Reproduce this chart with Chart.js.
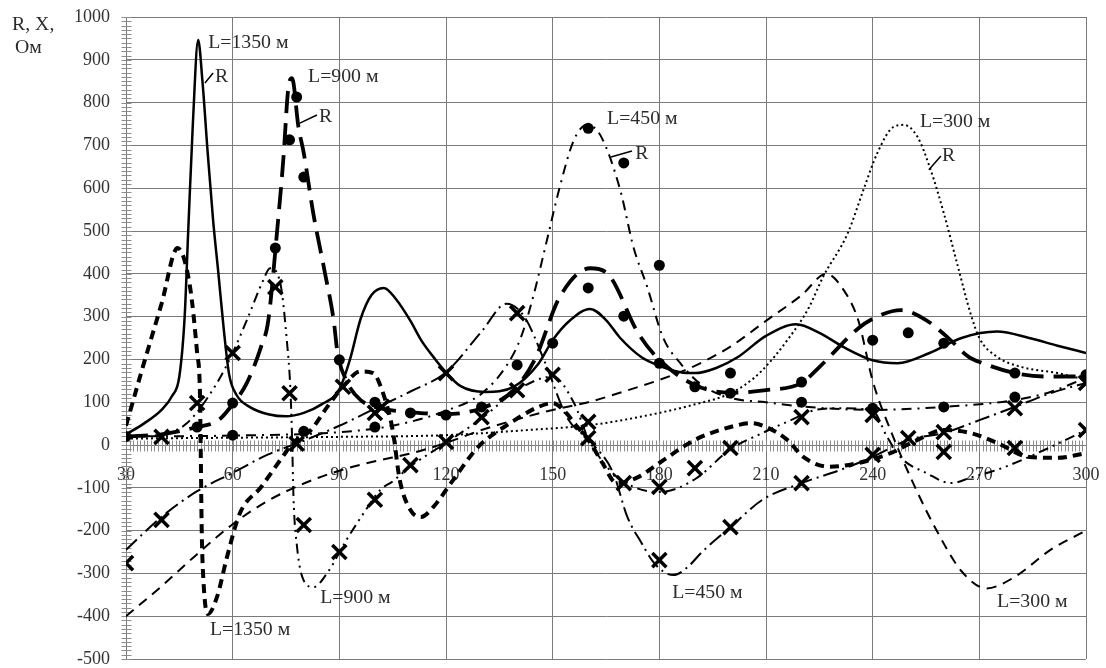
<!DOCTYPE html>
<html>
<head>
<meta charset="utf-8">
<script src="https://cdn.jsdelivr.net/npm/chart.js@4/dist/chart.umd.min.js"></script>
<style>
    html, body { margin: 0; padding: 0; background: #fff; }
</style>
</head>
<body>
<canvas id="chart" width="1106" height="668"></canvas>
<script>
// --- Data (x, y pairs) ---
const r1350 = [[30,25],[35,50],[40,82],[43,115],[45,160],[46.5,300],[47.5,500],[48.8,750],[50.3,946],[51.5,850],[53,680],[54.5,525],[56,400],[57.5,270],[59,165],[61,118],[65,88],[70,72],[75,67],[80,75],[85,95],[90,130],[93,200],[96,295],[99,350],[102.5,367],[106,340],[110,290],[113,245],[117,200],[120,170],[124,138],[131,124],[139,136],[146,190],[150,245],[155,292],[160.5,318],[165,292],[169,250],[175,205],[180,185],[186,170],[190,168],[196,180],[202,205],[210,255],[218.5,282],[225,262],[232,228],[240,198],[247,191],[256,215],[265,250],[275,265],[284,250],[292,232],[300,215]];
const r900 = [[30,20],[40,25],[50,42],[56,58],[60,95],[64,145],[68,230],[70,290],[72.5,500],[74.3,673],[75.6,830],[76.7,857],[78.5,743],[80,682],[82.7,540],[86,400],[88.4,292],[89.5,215],[92,150],[96,105],[102,85],[110,77],[120,72],[130,86],[139,128],[145,200],[152,346],[160.6,413],[166,395],[174,262],[180,199],[190,140],[200,122],[210,128],[220,145],[225,182],[236,273],[241,299],[248,315],[255,292],[261,252],[267,206],[271,191],[280,168],[289,160],[300,160]];
const r450 = [[30,20],[60,22],[90,30],[105,45],[120,80],[130,120],[137,185],[141,250],[144.5,346],[148.4,479],[152,603],[156,713],[159.7,748],[163.4,724],[169,596],[172.7,463],[176.6,369],[181,252],[186,190],[192,140],[200,110],[210,100],[220,90],[240,82],[260,89],[280,105],[290,124],[300,157]];
const r300 = [[30,15],[60,17],[90,19],[120,23],[143,35],[161,47],[180,75],[190,95],[199,117],[204,140],[209,175],[216,245],[222,320],[226,392],[233,495],[237.4,596],[241.3,682],[245.8,743],[248.7,748],[252.6,720],[256.3,643],[260,542],[264,416],[267.5,308],[270,250],[275,206],[282,182],[292,168],[300,152]];

const x1350 = [[30,45],[35,190],[40,330],[44.5,460],[48,370],[50,215],[50.8,120],[51,0],[51.3,-200],[51.8,-320],[53,-395],[55.6,-355],[58.4,-262],[62,-160],[68,-98],[74,-28],[77,5],[82,35],[86.6,89],[91,136],[96,172],[99.5,168],[102,128],[105,35],[107,-82],[110,-152],[113,-168],[116.4,-145],[122,-82],[129,-5],[138,51],[146,89],[150,98],[153,82],[157,42],[160.6,5],[164,-42],[168,-89],[174,-75],[180,-42],[190,12],[200,42],[206,51],[210,42],[216,12],[220.5,-28],[228,-51],[236,-42],[245,-19],[252.6,12],[260,35],[267.5,28],[275,5],[284,-28],[292,-30],[300,-19]];
const x900 = [[30,18],[40,25],[47,50],[55.6,145],[60,215],[64,292],[68.6,385],[70.5,413],[73.4,378],[75.3,238],[76.2,136],[76.7,19],[77.1,-121],[78.1,-238],[79.9,-315],[82.7,-332],[86.6,-299],[92,-222],[98,-145],[101.5,-105],[105,-85],[110,-50],[120,5],[130,62],[140,128],[150,160],[156,98],[160,15],[166,-58],[172,-95],[180,-110],[190,-80],[200,-10],[209,28],[217,58],[224,82],[231,86],[240,80],[244,20],[248,-30],[255,-65],[262,-89],[268,-75],[275,-58],[282,-35],[290,-5],[300,35]];
const x450 = [[30,-245],[40,-168],[50,-108],[60,-65],[70,-22],[80,10],[90,45],[100,85],[110,125],[120,170],[130,265],[137,330],[142,300],[148,190],[154,65],[161,5],[167,-65],[171,-168],[175,-229],[178,-270],[181,-295],[184,-304],[188,-285],[192,-250],[200,-192],[209,-128],[220,-89],[231,-58],[240,-28],[250,12],[260,28],[270,58],[280,89],[290,121],[300,145]];
const x300 = [[30,-400],[40,-330],[50,-255],[60,-185],[70,-130],[80,-90],[90,-60],[100,-38],[110,-20],[120,5],[130,35],[140,60],[150,82],[160,100],[170,125],[180,152],[190,185],[200,230],[210,290],[220,350],[227,400],[232,360],[236,290],[240,150],[245,35],[252,-100],[258,-200],[265,-295],[272,-335],[280,-308],[290,-245],[300,-200]];

// measured points: dots = R, crosses = X
const dotsR = [[30,20],[50,42],[60,98],[60,23],[72,460],[76,713],[78,813],[80,626],[80,32],[90,199],[100,100],[100,42],[110,75],[120,70],[130,89],[140,187],[150,238],[160,740],[170,659],[160,367],[170,301],[180,420],[180,191],[190,136],[200,168],[200,121],[220,147],[220,100],[240,245],[240,86],[250,262],[260,238],[260,89],[280,168],[280,112],[300,164]];
const crossX = [[30,-276],[40,19],[40,-175],[50,98],[60,215],[72,369],[76,121],[78,3],[80,-187],[90,-250],[91,136],[100,-128],[100,75],[102,89],[110,-47],[120,168],[120,7],[130,65],[140,128],[140,308],[150,164],[160,54],[160,16],[170,-89],[180,-98],[180,-269],[190,-54],[200,-192],[200,-7],[220,65],[220,-89],[240,70],[240,-23],[250,16],[260,30],[260,-16],[280,86],[280,-7],[300,145],[300,35]];

const xMin = 30, xMax = 300, xStep = 30;
const yMin = -500, yMax = 1000, yStep = 100;

// text notes: [text, x, y] in data units (left edge, middle)
const notes = [
    ['L=1350 м', 53.1, 939], ['R', 55.0, 860],
    ['L=900 м', 81.2, 860], ['R', 84.3, 766],
    ['L=450 м', 165.3, 762], ['R', 173.2, 680],
    ['L=300 м', 253.3, 755], ['R', 259.5, 675],
    ['L=1350 м', 53.6, -432], ['L=900 м', 84.6, -357],
    ['L=450 м', 183.6, -346], ['L=300 м', 275.0, -367]
];
const leaders = [
    [52.2, 846, 54.5, 869], [78.9, 752, 83.7, 771],
    [166.4, 673, 172.3, 687], [255.8, 643, 259.2, 675]
];

const FONT = 'Liberation Serif';
const pts = a => a.map(([x, y]) => ({ x, y }));

function curve(data, width, dash) {
    return {
        data: pts(data),
        showLine: true,
        borderColor: '#000',
        borderWidth: width,
        borderDash: dash,
        pointRadius: 0,
        cubicInterpolationMode: 'monotone',
        fill: false
    };
}

// --- Minor ticks on both axes ---
const minorTicks = {
    id: 'minorTicks',
    beforeDatasetsDraw(chart) {
        const { ctx, scales: { x, y } } = chart;
        const x0 = Math.round(x.getPixelForValue(xMin)) + 0.5;
        const y0 = Math.round(y.getPixelForValue(0)) + 0.5;
        ctx.save();
        ctx.strokeStyle = '#8c8c8c';
        ctx.lineWidth = 1;
        ctx.beginPath();
        for (let v = yMin; v <= yMax; v += 10) {
            const py = Math.round(y.getPixelForValue(v)) + 0.5;
            ctx.moveTo(x0 - 5, py);
            ctx.lineTo(x0 + 5, py);
        }
        for (let v = xMin; v <= xMax; v += 1) {
            const px = Math.round(x.getPixelForValue(v)) + 0.5;
            ctx.moveTo(px, y0 - 5);
            ctx.lineTo(px, y0 + 6);
        }
        ctx.stroke();
        ctx.restore();
    }
};

// --- Labels, leaders and axis title ---
const notesPlugin = {
    id: 'notes',
    afterDatasetsDraw(chart) {
        const { ctx, scales: { x, y } } = chart;
        ctx.save();
        ctx.fillStyle = '#2b2b2b';
        ctx.font = `18px "${FONT}"`;
        ctx.textBaseline = 'middle';
        ctx.textAlign = 'left';
        const put = (t, px, py) => {
            ctx.save();
            ctx.translate(px, py);
            ctx.scale(1.1, 1);
            ctx.fillText(t, 0, 0);
            ctx.restore();
        };
        notes.forEach(([t, vx, vy]) => put(t, x.getPixelForValue(vx), y.getPixelForValue(vy)));

        ctx.strokeStyle = '#000';
        ctx.lineWidth = 1.5;
        ctx.beginPath();
        leaders.forEach(([ax, ay, bx, by]) => {
            ctx.moveTo(x.getPixelForValue(ax), y.getPixelForValue(ay));
            ctx.lineTo(x.getPixelForValue(bx), y.getPixelForValue(by));
        });
        ctx.stroke();

        put('R, X,', 12, 25);
        put('Ом', 15, 48);
        ctx.restore();
    }
};

const tickFont = { family: FONT, size: 18, lineHeight: 0.5 };

new Chart(document.getElementById('chart'), {
    type: 'scatter',
    data: {
        datasets: [
            {
                data: pts(crossX),
                pointStyle: 'crossRot',
                pointRadius: 10,
                borderWidth: 3.5,
                borderColor: '#000',
                backgroundColor: '#000'
            },
            {
                data: pts(dotsR),
                pointStyle: 'circle',
                pointRadius: 5.5,
                borderWidth: 0,
                backgroundColor: '#000'
            },
            curve(r1350, 2.5, []),
            curve(r900, 3.8, [22, 10]),
            curve(r450, 2, [10, 6, 2, 6]),
            curve(r300, 2, [2, 3]),
            curve(x1350, 4, [9, 6]),
            curve(x900, 2, [10, 5, 2, 5, 2, 5]),
            curve(x450, 2, [15, 5, 2, 5]),
            curve(x300, 2, [10, 7])
        ]
    },
    options: {
        responsive: false,
        animation: false,
        layout: { autoPadding: false, padding: { left: 0, right: 20, top: 17, bottom: 9 } },
        plugins: {
            legend: { display: false },
            tooltip: { enabled: false }
        },
        scales: {
            x: {
                type: 'linear',
                min: xMin,
                max: xMax,
                position: { y: 0 },
                afterFit: s => { s.height = 0; },
                ticks: {
                    stepSize: xStep,
                    padding: 0,
                    maxRotation: 0,
                    autoSkip: false,
                    color: '#333',
                    font: tickFont
                },
                grid: { color: '#7a7a7a', lineWidth: 1, drawTicks: true, tickLength: 26, tickColor: 'rgba(0,0,0,0)' },
                border: { color: '#7a7a7a' }
            },
            y: {
                type: 'linear',
                min: yMin,
                max: yMax,
                afterFit: s => { s.width = 126; },
                ticks: {
                    stepSize: yStep,
                    padding: 0,
                    color: '#333',
                    font: tickFont,
                    callback: v => String(v)
                },
                grid: { color: '#7a7a7a', lineWidth: 1, drawTicks: true, tickLength: 16, tickColor: 'rgba(0,0,0,0)' },
                border: { color: '#7a7a7a' }
            }
        }
    },
    plugins: [minorTicks, notesPlugin]
});
</script>
</body>
</html>
